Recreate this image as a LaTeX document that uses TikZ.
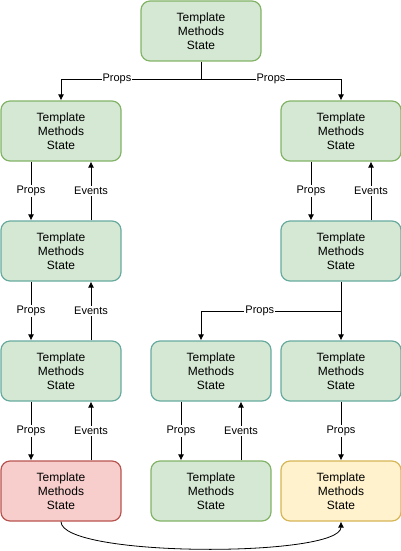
\documentclass[tikz,border=0pt]{standalone}
\usepackage{fontspec}
\setmainfont{Liberation Sans}
\usetikzlibrary{arrows.meta}
\definecolor{gfill}{HTML}{D5E8D4}
\definecolor{gline}{HTML}{82B366}
\definecolor{tline}{HTML}{67AB9F}
\definecolor{rfill}{HTML}{F8CECC}
\definecolor{rline}{HTML}{B85450}
\definecolor{yfill}{HTML}{FFF2CC}
\definecolor{yline}{HTML}{D6B656}
\tikzset{
  state/.style={draw=gline, fill=gfill, line width=1.2pt, rounded corners=9pt,
    minimum width=120pt, minimum height=60pt, align=center,
    font=\fontsize{12}{14}\selectfont},
  teal/.style={state, draw=tline},
  lbl/.style={fill=white, inner sep=1pt, font=\fontsize{11}{13}\selectfont},
  arr/.style={-{Latex[length=6pt,width=6pt]}, line width=.8pt},
}
\begin{document}
\begin{tikzpicture}[x=1pt, y=-1pt]
   \useasboundingbox (0,0) rectangle (401,551);
   \node[state] (T) at (201,31) {Template\\Methods\\State};
   \node[state] (L1) at (61,131) {Template\\Methods\\State};
   \node[state] (R1) at (341,131) {Template\\Methods\\State};
   \node[teal] (L2) at (61,251) {Template\\Methods\\State};
   \node[teal] (R2) at (341,251) {Template\\Methods\\State};
   \node[teal] (L3) at (61,371) {Template\\Methods\\State};
   \node[teal] (M3) at (211,371) {Template\\Methods\\State};
   \node[teal] (R3) at (341,371) {Template\\Methods\\State};
   \node[state, draw=rline, fill=rfill] (L4) at (61,491) {Template\\Methods\\State};
   \node[state] (M4) at (211,491) {Template\\Methods\\State};
   \node[state, draw=yline, fill=yfill] (R4) at (341,491) {Template\\Methods\\State};
   \coordinate (J) at (201,79);
   \coordinate (K) at (341,311);
   % top fan-out
   \draw[line width=.8pt] (T) -- (J);
   \draw[arr] (J) -| (L1) node[pos=.3, lbl] {Props};
   \draw[arr] (J) -| (R1) node[pos=.25, lbl] {Props};
   % left column
   \draw[arr] ([xshift=-30pt]L1.south) -- ([xshift=-30pt]L2.north) node[midway, lbl] {Props};
   \draw[arr] ([xshift=30pt]L2.north) -- ([xshift=30pt]L1.south) node[midway, lbl] {Events};
   \draw[arr] ([xshift=-30pt]L2.south) -- ([xshift=-30pt]L3.north) node[midway, lbl] {Props};
   \draw[arr] ([xshift=30pt]L3.north) -- ([xshift=30pt]L2.south) node[midway, lbl] {Events};
   \draw[arr] ([xshift=-30pt]L3.south) -- ([xshift=-30pt]L4.north) node[midway, lbl] {Props};
   \draw[arr] ([xshift=30pt]L4.north) -- ([xshift=30pt]L3.south) node[midway, lbl] {Events};
   % right column
   \draw[arr] ([xshift=-30pt]R1.south) -- ([xshift=-30pt]R2.north) node[midway, lbl] {Props};
   \draw[arr] ([xshift=30pt]R2.north) -- ([xshift=30pt]R1.south) node[midway, lbl] {Events};
   \draw[line width=.8pt] (R2) -- (K);
   \draw[arr] (K) -| ([xshift=-10pt]M3.north) node[pos=.29, lbl] {Props};
   \draw[arr] (K) -- (R3);
   \draw[arr] ([xshift=-30pt]M3.south) -- ([xshift=-30pt]M4.north) node[midway, lbl] {Props};
   \draw[arr] ([xshift=30pt]M4.north) -- ([xshift=30pt]M3.south) node[midway, lbl] {Events};
   \draw[arr] (R3) -- (R4) node[midway, lbl] {Props};
   % bottom link
   \draw[arr] (L4.south) .. controls +(0,36) and +(0,36) .. (R4.south);
\end{tikzpicture}
\end{document}
